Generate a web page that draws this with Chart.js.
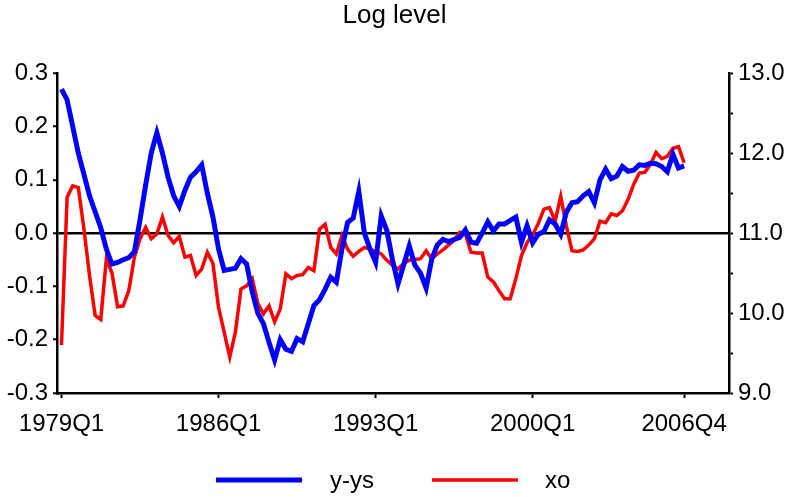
<!DOCTYPE html>
<html lang="en">
<head>
<meta charset="UTF-8">
<title>Log level</title>
<script src="https://cdn.jsdelivr.net/npm/chart.js"></script>
<style>
  html, body { margin: 0; padding: 0; background: #fff; }
  canvas { display: block; }
</style>
</head>
<body>
<canvas id="chart" width="789" height="497"></canvas>
<script>
// quarterly dates 1979Q1 .. 2006Q4
const quarters = [];
for (let y = 1979; y <= 2006; y++) {
  for (let q = 1; q <= 4; q++) quarters.push(y + 'Q' + q);
}

// y-ys, left axis
const yys = [
  0.27, 0.25, 0.20, 0.15, 0.11, 0.07, 0.04, 0.01, -0.03, -0.058,
  -0.055, -0.05, -0.046, -0.035, 0.025, 0.09, 0.15, 0.188, 0.15, 0.105,
  0.07, 0.05, 0.08, 0.105, 0.115, 0.128, 0.075, 0.03, -0.03, -0.07,
  -0.068, -0.066, -0.048, -0.058, -0.11, -0.15, -0.17, -0.205, -0.238, -0.20,
  -0.218, -0.222, -0.198, -0.204, -0.17, -0.136, -0.125, -0.105, -0.083, -0.092,
  -0.03, 0.02, 0.028, 0.078, 0.0, -0.03, -0.055, 0.032, 0.005, -0.05,
  -0.095, -0.06, -0.024, -0.06, -0.075, -0.103, -0.049, -0.022, -0.012, -0.016,
  -0.012, -0.008, 0.006, -0.017, -0.019, 0.0, 0.021, 0.004, 0.017, 0.017,
  0.024, 0.03, -0.017, 0.014, -0.018, -0.002, 0.003, 0.025, 0.017, -0.002,
  0.039, 0.057, 0.059, 0.07, 0.078, 0.057, 0.10, 0.12, 0.102, 0.107,
  0.125, 0.116, 0.118, 0.128, 0.127, 0.131, 0.13, 0.125, 0.115, 0.148,
  0.122, 0.126
];

// xo, right axis
const xo = [
  9.60, 11.45, 11.59, 11.57, 11.05, 10.47, 9.97, 9.92, 10.68, 10.50,
  10.08, 10.09, 10.28, 10.70, 10.93, 11.07, 10.93, 10.99, 11.20, 10.97,
  10.88, 10.96, 10.70, 10.72, 10.47, 10.55, 10.76, 10.62, 10.07, 9.76,
  9.45, 9.76, 10.30, 10.34, 10.43, 10.12, 9.99, 10.09, 9.89, 10.05,
  10.49, 10.43, 10.47, 10.48, 10.57, 10.53, 11.05, 11.11, 10.82, 10.74,
  10.97, 10.80, 10.71, 10.77, 10.82, 10.80, 10.77, 10.74, 10.66, 10.60,
  10.55, 10.62, 10.66, 10.67, 10.68, 10.78, 10.68, 10.74, 10.79, 10.85,
  10.91, 11.01, 10.99, 10.76, 10.75, 10.75, 10.45, 10.39, 10.28, 10.18,
  10.18, 10.43, 10.72, 10.88, 10.98, 11.12, 11.30, 11.32, 11.15, 11.46,
  11.09, 10.78, 10.77, 10.79, 10.85, 10.93, 11.15, 11.13, 11.24, 11.22,
  11.28, 11.42, 11.61, 11.75, 11.76, 11.86, 12.01, 11.93, 11.96, 12.06,
  12.08, 11.88
];

const tickLabels = ['1979Q1', '1986Q1', '1993Q1', '2000Q1', '2006Q4'];
const tickIdx = tickLabels.map(l => quarters.indexOf(l));

Chart.defaults.font.family = "'Liberation Sans', Arial, sans-serif";
Chart.defaults.color = '#000';

// legend drawn by hand so the sample lines match the original spacing
const legendLines = {
  id: 'legendLines',
  afterDraw(chart) {
    const ctx = chart.ctx;
    const spots = [{ x: 216, tx: 330 }, { x: 432, tx: 545 }];
    const y = 480;
    ctx.save();
    chart.data.datasets.forEach((ds, i) => {
      const s = spots[i];
      ctx.strokeStyle = ds.borderColor;
      ctx.lineWidth = ds.borderWidth;
      ctx.lineCap = 'butt';
      ctx.beginPath();
      ctx.moveTo(s.x, y);
      ctx.lineTo(s.x + 86, y);
      ctx.stroke();
      ctx.fillStyle = '#000';
      ctx.font = "24px 'Liberation Sans', Arial, sans-serif";
      ctx.textBaseline = 'middle';
      ctx.textAlign = 'left';
      ctx.fillText(ds.label, s.tx, y + 1);
    });
    ctx.restore();
  }
};

new Chart(document.getElementById('chart'), {
  type: 'line',
  data: {
    datasets: [
      {
        label: 'y-ys',
        data: yys.map((v, i) => ({ x: i, y: v })),
        borderColor: '#0000ff',
        borderWidth: 5,
        pointRadius: 0,
        yAxisID: 'y'
      },
      {
        label: 'xo',
        data: xo.map((v, i) => ({ x: i, y: v })),
        borderColor: '#ff0000',
        borderWidth: 3.5,
        pointRadius: 0,
        yAxisID: 'y1'
      }
    ]
  },
  options: {
    responsive: false,
    animation: false,
    layout: { padding: { left: 0, right: 0, top: 0, bottom: 60 } },
    plugins: {
      legend: { display: false },
      tooltip: { enabled: false },
      title: {
        display: true,
        text: 'Log level',
        font: { size: 26, weight: 'normal' },
        color: '#000',
        padding: { top: 0, bottom: 42 }
      }
    },
    scales: {
      x: {
        type: 'linear',
        min: -0.8,
        max: 119,
        afterFit: s => { s.height = 44; },
        afterBuildTicks: s => { s.ticks = tickIdx.map(v => ({ value: v })); },
        border: { color: '#000', width: 2.5 },
        grid: { drawOnChartArea: false, tickLength: 5, tickColor: '#000', tickWidth: 2 },
        ticks: {
          autoSkip: false,
          maxRotation: 0,
          padding: 12,
          font: { size: 24 },
          callback: v => tickLabels[tickIdx.indexOf(v)]
        }
      },
      y: {
        position: 'left',
        min: -0.3,
        max: 0.3,
        afterFit: s => { s.width = 57; },
        border: { color: '#000', width: 2.5 },
        grid: {
          color: c => (c.tick && Math.abs(c.tick.value) < 1e-9 ? '#000' : 'rgba(0,0,0,0)'),
          lineWidth: 2.5,
          tickColor: '#000',
          tickLength: 4,
          tickWidth: 2
        },
        ticks: {
          stepSize: 0.05,
          padding: 5,
          font: { size: 24 },
          callback: v => (Math.abs(Math.round(v * 20)) % 2 === 0 ? (Math.round(v * 10) / 10).toFixed(1) : '')
        }
      },
      y1: {
        position: 'right',
        min: 9,
        max: 13,
        afterFit: s => { s.width = 60; },
        border: { color: '#000', width: 2.5 },
        grid: { drawOnChartArea: false, tickColor: '#000', tickLength: 4, tickWidth: 2 },
        ticks: {
          stepSize: 0.5,
          padding: 5,
          font: { size: 24 },
          callback: v => (Math.abs(v - Math.round(v)) < 1e-9 ? v.toFixed(1) : '')
        }
      }
    }
  },
  plugins: [legendLines]
});
</script>
</body>
</html>
